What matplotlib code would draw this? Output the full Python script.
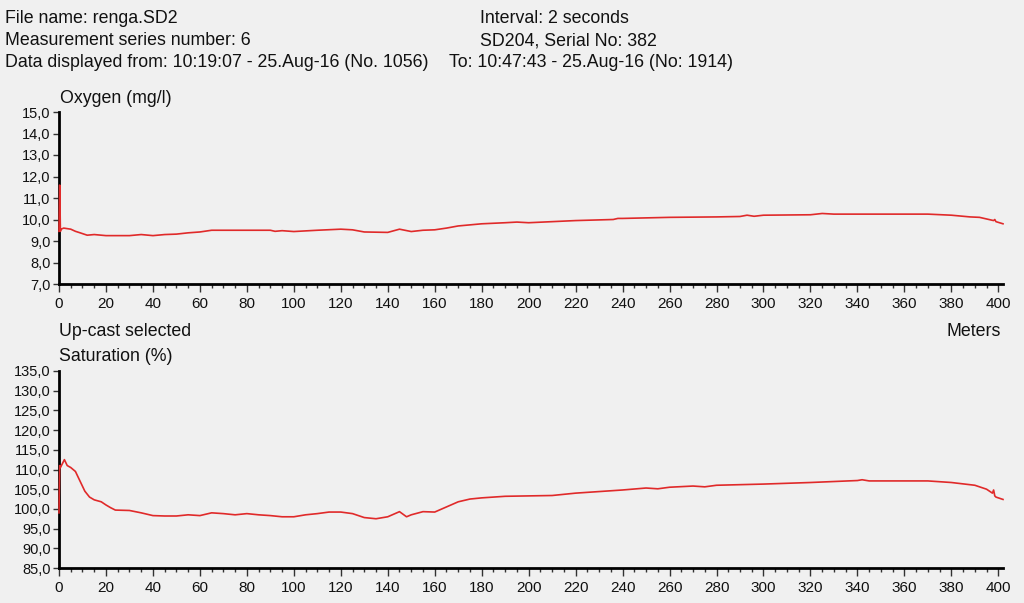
import matplotlib
matplotlib.use("Agg")
import matplotlib.pyplot as plt
from matplotlib.ticker import MultipleLocator, FuncFormatter

plt.rcParams['font.family'] = ['Liberation Sans', 'DejaVu Sans']

# Oxygen (mg/l) vs depth (m)
oxy_depth = [0, 0.3, 0.6, 0.9, 2, 5, 7, 9, 12, 15, 20, 30, 35, 40, 45, 50, 55, 60, 65,
             80, 90, 92, 95, 100, 110, 120, 125, 130, 140, 145, 150, 155, 160, 165, 170,
             180, 190, 195, 200, 210, 220, 236, 238, 240, 260, 280, 290, 293, 296, 300,
             320, 325, 330, 370, 380, 388, 392, 396, 398, 398.5, 399, 402]
oxy_vals = [9.45, 11.6, 9.45, 9.55, 9.6, 9.55, 9.45, 9.38, 9.27, 9.3, 9.25, 9.25, 9.3, 9.25,
            9.3, 9.32, 9.38, 9.42, 9.5, 9.5, 9.5, 9.45, 9.48, 9.44, 9.5, 9.55, 9.52, 9.42,
            9.4, 9.55, 9.44, 9.5, 9.52, 9.6, 9.7, 9.8, 9.85, 9.88, 9.85, 9.9, 9.95, 10.0,
            10.05, 10.05, 10.1, 10.12, 10.14, 10.2, 10.15, 10.2, 10.22, 10.28, 10.25, 10.25,
            10.2, 10.12, 10.1, 10.0, 9.95, 10.0, 9.9, 9.8]

# Saturation (%) vs depth (m)
sat_depth = [0, 0.3, 0.6, 1.2, 2.3, 3.5, 5, 7, 9, 11, 13, 15, 18, 20, 22, 24, 30, 35,
             40, 45, 50, 55, 60, 65, 70, 75, 80, 85, 90, 95, 100, 105, 110, 115, 120, 125,
             130, 135, 140, 145, 148, 150, 155, 160, 165, 170, 175, 180, 190, 200, 210,
             220, 240, 250, 255, 260, 270, 275, 280, 300, 320, 340, 342, 345, 370, 380,
             390, 395, 397.5, 398, 398.5, 399, 402]
sat_vals = [99.0, 111.0, 110.5, 111.2, 112.5, 111.0, 110.5, 109.5, 107.0, 104.5, 103.0,
            102.3, 101.8, 101.0, 100.3, 99.7, 99.6, 99.0, 98.3, 98.2, 98.2, 98.5, 98.3,
            99.0, 98.8, 98.5, 98.8, 98.5, 98.3, 98.0, 98.0, 98.5, 98.8, 99.2, 99.2, 98.8,
            97.8, 97.5, 98.0, 99.3, 98.0, 98.5, 99.3, 99.2, 100.5, 101.8, 102.5, 102.8,
            103.2, 103.3, 103.4, 104.0, 104.8, 105.3, 105.1, 105.5, 105.8, 105.6, 106.0,
            106.3, 106.7, 107.2, 107.4, 107.1, 107.1, 106.7, 106.0, 105.0, 104.0, 104.8,
            103.3, 103.0, 102.4]

header_left = ["File name: renga.SD2",
               "Measurement series number: 6",
               "Data displayed from: 10:19:07 - 25.Aug-16 (No. 1056)"]
header_right = ["Interval: 2 seconds",
                "SD204, Serial No: 382"]
header_to = "To: 10:47:43 - 25.Aug-16 (No: 1914)"

bg = '#f0f0f0'
line_color = '#e02a2a'
txt = '#111111'

fig = plt.figure(figsize=(10.24, 6.03), dpi=100, facecolor=bg)

def px(x, y):
    return x / 1024, 1 - y / 603

ax1 = fig.add_axes([59/1024, 1-284/603, (1003-59)/1024, (284-112)/603])
ax2 = fig.add_axes([59/1024, 1-568/603, (1003-59)/1024, (568-371)/603])

comma = FuncFormatter(lambda v, p: f"{v:.1f}".replace('.', ','))

for ax, ymin, ymax, ystep in [(ax1, 7, 15, 1), (ax2, 85, 135, 5)]:
    ax.set_facecolor(bg)
    for s in ['top', 'right']:
        ax.spines[s].set_visible(False)
    for s in ['left', 'bottom']:
        ax.spines[s].set_color('black')
        ax.spines[s].set_linewidth(2)
    ax.set_xlim(0, 402)
    ax.set_ylim(ymin, ymax)
    ax.xaxis.set_major_locator(MultipleLocator(20))
    ax.xaxis.set_minor_locator(MultipleLocator(5))
    ax.yaxis.set_major_locator(MultipleLocator(ystep))
    ax.yaxis.set_major_formatter(comma)
    ax.tick_params(axis='x', which='major', length=6, width=1, color='#333333',
                   labelsize=11, labelcolor=txt, pad=3)
    ax.tick_params(axis='x', which='minor', length=3, width=1, color='#333333')
    ax.tick_params(axis='y', which='major', length=4, width=1, color='#333333',
                   labelsize=10.5, labelcolor=txt, pad=2)

ax1.plot(oxy_depth, oxy_vals, color=line_color, lw=1.2, zorder=3, clip_on=False)
ax2.plot(sat_depth, sat_vals, color=line_color, lw=1.2, zorder=3, clip_on=False)

fs = 12.8
for i, t in enumerate(header_left):
    fig.text(*px(5, 23 + 22 * i), t, fontsize=fs, color=txt, va='baseline', ha='left')
for i, t in enumerate(header_right):
    fig.text(*px(480, 23 + 22 * i), t, fontsize=fs, color=txt, va='baseline', ha='left')
fig.text(*px(449, 67), header_to, fontsize=fs, color=txt, va='baseline', ha='left')

fig.text(*px(60, 103), "Oxygen (mg/l)", fontsize=fs, color=txt, va='baseline', ha='left')
fig.text(*px(59, 336), "Up-cast selected", fontsize=fs, color=txt, va='baseline', ha='left')
fig.text(*px(59, 361), "Saturation (%)", fontsize=fs, color=txt, va='baseline', ha='left')
fig.text(*px(1001, 336), "Meters", fontsize=fs, color=txt, va='baseline', ha='right')

fig.savefig("out.png", dpi=100, facecolor=bg)
